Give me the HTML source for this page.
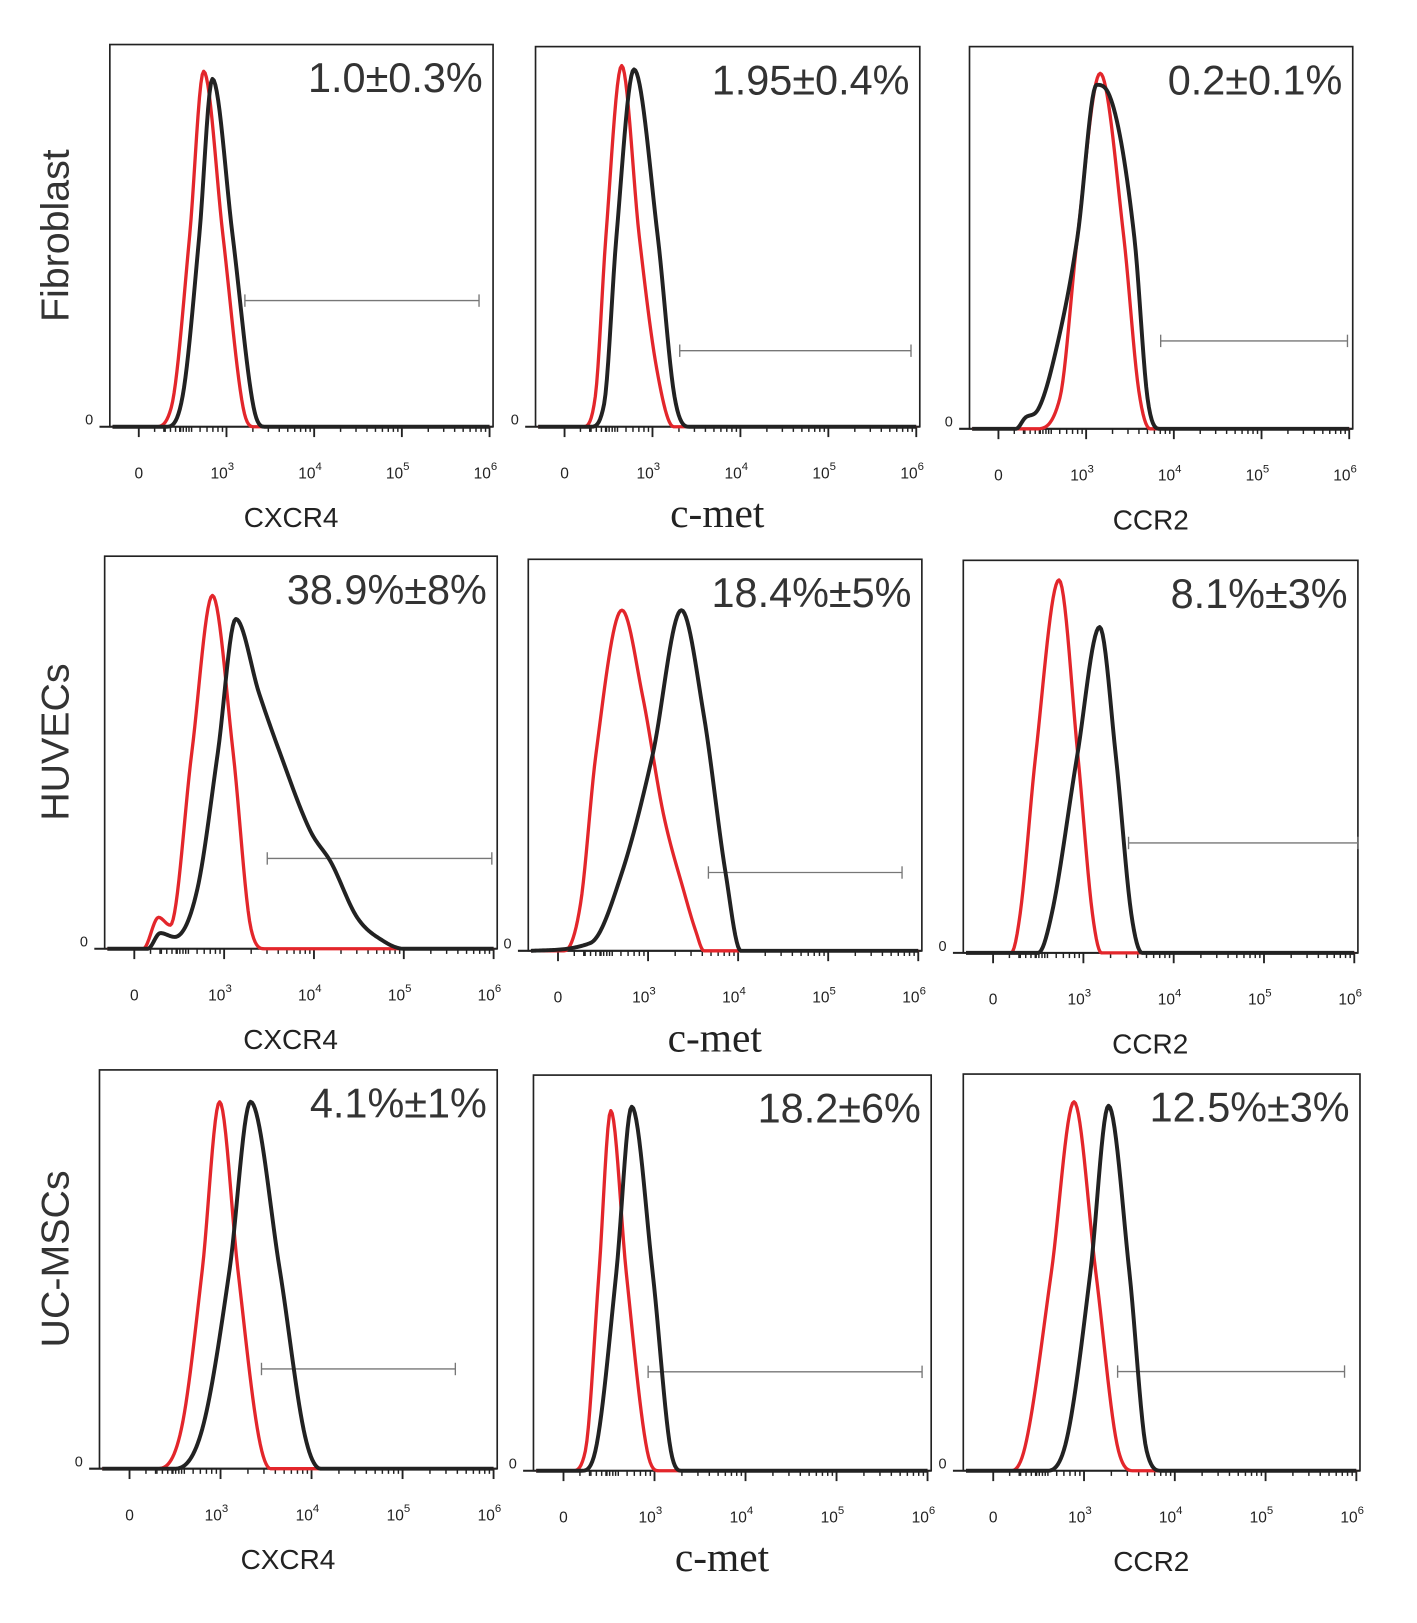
<!DOCTYPE html>
<html><head><meta charset="utf-8"><style>
html,body{margin:0;padding:0;background:#fff;}
svg{display:block;}
</style></head><body>
<svg id="fig" width="1417" height="1623" viewBox="0 0 1368 1567" xmlns="http://www.w3.org/2000/svg" font-family="Liberation Sans, Arial, sans-serif"></svg>
<script>
// panel frames [left, top, right, bottom] in figure units
const panelBoxes = [
 [106,43,476,412],[517,45,888,412],[936,45,1306,414],
 [101,537,480,916],[510,540,890,918],[930,541,1311,920],
 [96,1033,480,1418],[515,1038,899,1420],[930,1037,1313,1420]];
const rowLabels = ["Fibroblast","HUVECs","UC-MSCs"];
const markers = ["CXCR4","c-met","CCR2"];
const percentLabels = ["1.0±0.3%","1.95±0.4%","0.2±0.1%","38.9%±8%","18.4%±5%","8.1%±3%","4.1%±1%","18.2±6%","12.5%±3%"];
const tickLabels = ["0","10","10","10","10"];
const tickExps = ["","3","4","5","6"];
const tickDecades = [2,3,4,5,6];
// gates: [start decade, end decade, height fraction]
const gates = [[3.21,5.88,.33],[3.31,5.94,.20],[3.85,5.98,.23],[3.48,5.98,.23],[3.67,5.82,.20],[3.50,6.04,.28],[3.45,5.58,.25],[2.93,5.94,.25],[3.37,5.87,.25]];
// control (red) histograms: decade positions & heights
const redU = [
 [1.7,2.19,2.37,2.58,2.74,2.96,3.19,3.31,6.0],
 [1.7,2.21,2.35,2.47,2.65,2.85,3.05,3.24,6.0],
 [1.7,2.43,2.70,2.90,3.16,3.43,3.60,3.73,6.0],
 [1.7,2.1,2.27,2.4,2.64,2.87,3.10,3.3,3.45,6.0],
 [1.7,2.07,2.25,2.42,2.71,2.94,3.17,3.40,3.53,3.62,6.0],
 [1.7,2.2,2.30,2.47,2.73,2.94,3.10,3.2,6.0],
 [1.7,2.3,2.57,2.80,2.99,3.19,3.42,3.55,6.0],
 [1.7,2.1,2.24,2.39,2.52,2.69,2.92,3.05,6.0],
 [1.7,2.2,2.35,2.64,2.89,3.13,3.38,3.55,6.0]];
const redH = [
 [0,0,.05,.5,.93,.5,.05,0,0],
 [0,0,.08,.5,.95,.5,.15,0,0],
 [0,0,.08,.5,.93,.5,.1,0,0],
 [0,0,.08,.06,.5,.90,.5,.05,0,0],
 [0,0,.12,.5,.87,.65,.35,.15,.05,0,0],
 [0,0,.1,.5,.95,.5,.1,0,0],
 [0,0,.1,.5,.92,.5,.08,0,0],
 [0,0,.05,.5,.91,.5,.05,0,0],
 [0,0,.06,.5,.93,.5,.05,0,0]];
// stained (black) histograms
const blackU = [
 [1.7,2.31,2.50,2.69,2.84,3.07,3.31,3.43,6.0],
 [1.7,2.30,2.45,2.59,2.79,3.06,3.25,3.41,6.0],
 [1.7,2.2,2.31,2.45,2.7,2.90,3.12,3.25,3.55,3.70,3.84,6.0],
 [1.7,2.15,2.29,2.45,2.70,2.93,3.13,3.39,3.62,3.96,4.19,4.48,4.77,5.0,6.0],
 [1.7,2.36,2.71,3.05,3.37,3.62,3.86,4.03,6.0],
 [1.7,2.5,2.65,2.93,3.18,3.36,3.53,3.65,6.0],
 [1.7,2.5,2.80,3.10,3.33,3.65,3.93,4.1,6.0],
 [1.7,2.2,2.35,2.58,2.75,2.98,3.18,3.3,6.0],
 [1.7,2.6,2.81,3.07,3.27,3.50,3.69,3.85,6.0]];
const blackH = [
 [0,0,.08,.5,.91,.5,.05,0,0],
 [0,0,.06,.5,.94,.5,.08,0,0],
 [0,0,.03,.05,.25,.5,.9,.88,.5,.08,0,0],
 [0,0,.04,.03,.15,.5,.84,.65,.5,.3,.22,.08,.02,0,0],
 [0,.02,.2,.5,.87,.6,.2,0,0],
 [0,0,.1,.5,.83,.5,.1,0,0],
 [0,0,.1,.5,.92,.5,.08,0,0],
 [0,0,.05,.5,.92,.5,.05,0,0],
 [0,0,.08,.5,.92,.5,.05,0,0]];

const NS="http://www.w3.org/2000/svg";
const svg=document.getElementById('fig');
function mk(tag,attrs,parent){const e=document.createElementNS(NS,tag);for(const k in attrs)e.setAttribute(k,attrs[k]);(parent||svg).appendChild(e);return e;}
const U0=1.67,U1=6.04;
function xScale(b,u){return b[0]+(u-U0)/(U1-U0)*(b[2]-b[0]);}
function yScale(b,h){return b[3]-h*(b[3]-b[1]);}
// monotone cubic (Fritsch-Carlson) interpolation, sampled densely
function monotonePath(b,xs,ys){
  const n=xs.length,d=[],m=new Array(n);
  for(let i=0;i<n-1;i++)d.push((ys[i+1]-ys[i])/(xs[i+1]-xs[i]));
  m[0]=d[0];m[n-1]=d[n-2];
  for(let i=1;i<n-1;i++){m[i]=(d[i-1]*d[i]<=0)?0:(d[i-1]+d[i])/2;}
  for(let i=0;i<n-1;i++){
    if(d[i]===0){m[i]=0;m[i+1]=0;continue;}
    const a=m[i]/d[i],bb=m[i+1]/d[i],s=a*a+bb*bb;
    if(s>9){const t=3/Math.sqrt(s);m[i]=t*a*d[i];m[i+1]=t*bb*d[i];}
  }
  let path="";
  for(let i=0;i<n-1;i++){
    const h=xs[i+1]-xs[i],steps=Math.max(2,Math.ceil(h*60));
    for(let s=(i===0?0:1);s<=steps;s++){
      const t=s/steps,t2=t*t,t3=t2*t;
      const y=(2*t3-3*t2+1)*ys[i]+(t3-2*t2+t)*h*m[i]+(-2*t3+3*t2)*ys[i+1]+(t3-t2)*h*m[i+1];
      const px=xScale(b,xs[i]+t*h).toFixed(2),py=yScale(b,Math.max(0,y)).toFixed(2);
      path+=(path?" L":"M")+px+","+py;
    }
  }
  return path;
}
panelBoxes.forEach((b,i)=>{
  const g=mk('g',{});
  
  
  const fr=mk('rect',{x:b[0],y:b[1],width:b[2]-b[0],height:b[3]-b[1],fill:'none',stroke:'#222','stroke-width':1.6},g);
  
  
  const ax=mk('g',{},g);
  
  
  mk('line',{x1:b[0]-10,y1:b[3],x2:b[2],y2:b[3],stroke:'#222','stroke-width':2},ax);
  tickDecades.forEach((d,k)=>{
    const x=xScale(b,d);
    mk('line',{x1:x,y1:b[3],x2:x,y2:b[3]+10,stroke:'#222','stroke-width':1.8},ax);
    if(k>0&&d-1>=2){for(let mm=2;mm<10;mm++){const xm=xScale(b,d-1+Math.log10(mm));mk('line',{x1:xm,y1:b[3],x2:xm,y2:b[3]+5,stroke:'#222','stroke-width':1.4},ax);}}
    const t=mk('text',{x:x-(k?4:0),y:b[3]+50,'font-size':15,fill:'#222','text-anchor':'middle'},ax);
    t.textContent=tickLabels[k];
    
    
    if(tickExps[k]){const s=mk('tspan',{dy:-8,'font-size':11},t);s.textContent=tickExps[k];}
  });
  for(let mm=2;mm<10;mm++){const xm=xScale(b,2+Math.log10(mm)*0.6);mk('line',{x1:xm,y1:b[3],x2:xm,y2:b[3]+5,stroke:'#222','stroke-width':1.4},ax);}
  const z=mk('text',{x:b[0]-20,y:b[3]-2,'font-size':14,fill:'#222','text-anchor':'middle'},g);
  z.textContent="0";
  
  
  const ga=gates[i],gy=yScale(b,ga[2]),gx1=xScale(b,ga[0]),gx2=xScale(b,ga[1]);
  const gg=mk('g',{stroke:'#777','stroke-width':1.3},g);
  
  
  mk('line',{x1:gx1,y1:gy,x2:gx2,y2:gy},gg);
  mk('line',{x1:gx1,y1:gy-6,x2:gx1,y2:gy+6},gg);
  mk('line',{x1:gx2,y1:gy-6,x2:gx2,y2:gy+6},gg);
  const r=mk('path',{d:monotonePath(b,redU[i],redH[i]),fill:'none',stroke:'#e3262b','stroke-width':3.2,'stroke-linejoin':'round'},g);
  
  
  const k2=mk('path',{d:monotonePath(b,blackU[i],blackH[i]),fill:'none',stroke:'#222','stroke-width':3.8,'stroke-linejoin':'round'},g);
  
  
  const p=mk('text',{x:b[2]-10,y:b[1]+46,'font-size':40,fill:'#333','text-anchor':'end'},g);
  p.textContent=percentLabels[i];
  
  
  const col=i%3;
  const ml=mk('text',{x:(b[0]+b[2])/2-10,y:b[3]+97,'font-size':col===1?40:27,fill:'#222','text-anchor':'middle','font-family':col===1?'Liberation Serif, serif':'Liberation Sans, sans-serif'},g);
  ml.textContent=markers[col];
  
  
});
rowLabels.forEach((lab,r)=>{
  const b=panelBoxes[r*3];
  const cy=(b[1]+b[3])/2+(r===0?0:-10);
  const t=mk('text',{x:0,y:0,'font-size':38,fill:'#333','text-anchor':'middle',transform:'translate(66,'+cy+') rotate(-90)'});
  t.textContent=lab;
  
  
});
</script>
</body></html>
